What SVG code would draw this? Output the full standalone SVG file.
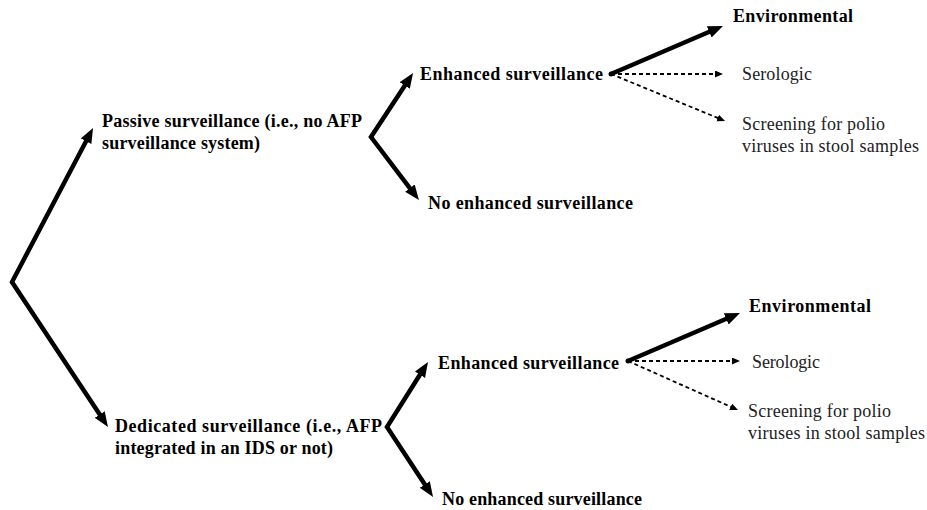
<svg xmlns="http://www.w3.org/2000/svg" width="927" height="510" viewBox="0 0 927 510">
<style>
text{font-family:'Liberation Serif','Times New Roman',serif;font-size:18px}
.main{font-weight:bold;fill:#000}
.sub{fill:#222}
.thick{stroke:#000;stroke-width:4.5;fill:none;stroke-linejoin:miter;marker-start:url(#ah);marker-end:url(#ah)}
.single{stroke:#000;stroke-width:4.5;fill:none;marker-end:url(#ah)}
.dash{stroke:#000;stroke-width:1.8;fill:none;stroke-dasharray:4 3;marker-end:url(#ahs)}
</style>
<defs>
<marker id="ah" markerUnits="userSpaceOnUse" markerWidth="18" markerHeight="14" refX="4" refY="6" orient="auto-start-reverse">
<path d="M0,0 L15,6 L0,12 z" fill="#000"/>
</marker>
<marker id="ahs" markerUnits="userSpaceOnUse" markerWidth="10" markerHeight="8" refX="2" refY="3.5" orient="auto">
<path d="M0,0 L8,3.5 L0,7 z" fill="#000"/>
</marker>
</defs>
<rect width="927" height="510" fill="#fff"/>
<g id="connectors">
<path class="thick" d="M87.9,137.7 L12,282 L101.9,417.8"/>
<path class="thick" d="M407,82.2 L371,137 L412.3,191.3"/>
<path class="thick" d="M422.1,371.3 L387,427 L427,487.8"/>
<line class="single" x1="611" y1="74" x2="712.9" y2="30.3"/>
<line class="dash" x1="611" y1="74" x2="717" y2="74"/>
<line class="dash" x1="611" y1="74" x2="719.5" y2="118.7"/>
<circle cx="611" cy="74" r="2.5" fill="#000"/>
<line class="single" x1="628" y1="361" x2="729.9" y2="317.3"/>
<line class="dash" x1="628" y1="361" x2="734" y2="361"/>
<line class="dash" x1="628" y1="361" x2="732.5" y2="407.6"/>
<circle cx="628" cy="361" r="2.5" fill="#000"/>
</g>
<g id="passive">
<text class="main" x="102" y="127" textLength="260" lengthAdjust="spacing">Passive surveillance (i.e., no AFP</text>
<text class="main" x="102" y="149" textLength="158" lengthAdjust="spacing">surveillance system)</text>
</g>
<g id="dedicated">
<text class="main" x="115" y="432" textLength="267" lengthAdjust="spacing">Dedicated surveillance (i.e., AFP</text>
<text class="main" x="115" y="454" textLength="218" lengthAdjust="spacing">integrated in an IDS or not)</text>
</g>
<g id="enhanced1"><text class="main" x="420" y="80" textLength="183" lengthAdjust="spacing">Enhanced surveillance</text></g>
<g id="noenhanced1"><text class="main" x="428" y="209" textLength="205" lengthAdjust="spacing">No enhanced surveillance</text></g>
<g id="enhanced2"><text class="main" x="438" y="369" textLength="181" lengthAdjust="spacing">Enhanced surveillance</text></g>
<g id="noenhanced2"><text class="main" x="442" y="505" textLength="200" lengthAdjust="spacing">No enhanced surveillance</text></g>
<g id="env1"><text class="main" x="733" y="22" textLength="120" lengthAdjust="spacing">Environmental</text></g>
<g id="sero1"><text class="sub" x="742" y="80" textLength="70" lengthAdjust="spacing">Serologic</text></g>
<g id="screen1">
<text class="sub" x="742" y="130" textLength="143" lengthAdjust="spacing">Screening for polio</text>
<text class="sub" x="742" y="152" textLength="177" lengthAdjust="spacing">viruses in stool samples</text>
</g>
<g id="env2"><text class="main" x="749" y="312" textLength="122" lengthAdjust="spacing">Environmental</text></g>
<g id="sero2"><text class="sub" x="752" y="368" textLength="68" lengthAdjust="spacing">Serologic</text></g>
<g id="screen2">
<text class="sub" x="748" y="417" textLength="143" lengthAdjust="spacing">Screening for polio</text>
<text class="sub" x="748" y="439" textLength="177" lengthAdjust="spacing">viruses in stool samples</text>
</g>
</svg>
